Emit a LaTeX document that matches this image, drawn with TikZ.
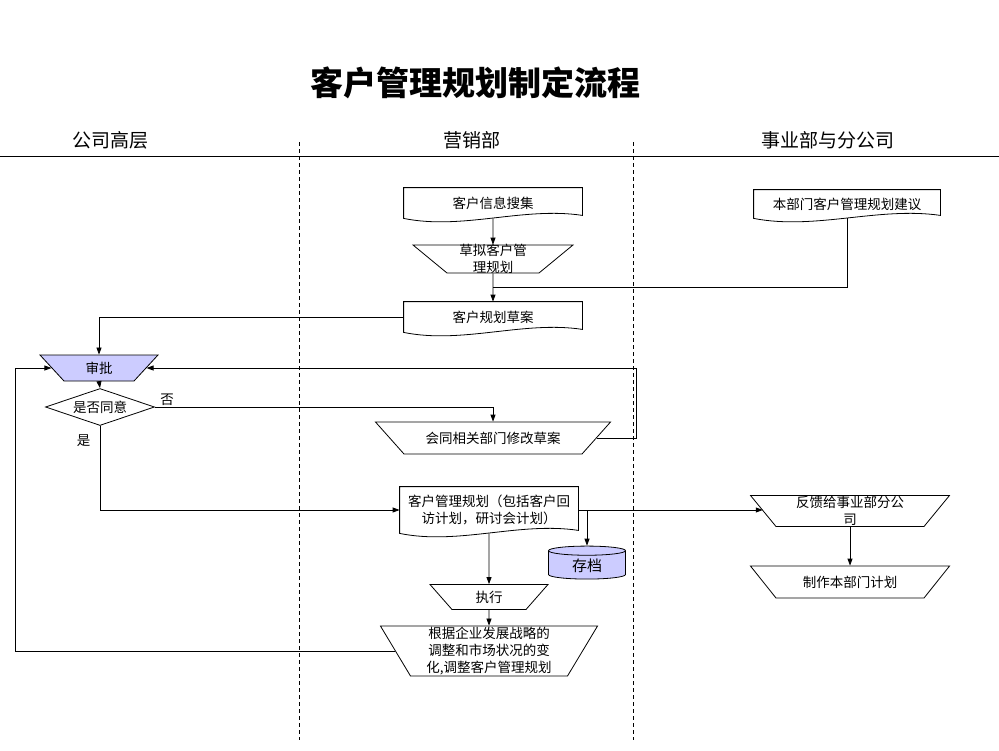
\documentclass[tikz,border=0pt]{standalone}
\usepackage{fontspec}
\setmainfont{Noto Sans CJK SC}
\usetikzlibrary{shapes.geometric,arrows.meta,calc}
\definecolor{lav}{HTML}{CCCCFF}
\tikzset{
	every node/.style={font=\fontsize{13.5}{17}\selectfont},
	arr/.style={-{Triangle[length=7pt,width=5pt]}},
	docbox/.style={minimum width=178pt, minimum height=30pt, inner sep=1pt, align=center},
	trap/.style n args={3}{draw, trapezium, shape border rotate=180, inner sep=0pt,
		text width=#1, text height=#2, text depth=0pt, trapezium angle=#3},
	head/.style={font=\fontsize{19}{22}\selectfont},
}
\begin{document}
\begin{tikzpicture}[x=1pt,y=-1pt,line width=0.8pt]
			\useasboundingbox (0,0) rectangle (999,750);
			\node[font=\fontsize{33}{36}\selectfont\bfseries] (title) at (475,83) {客户管理规划制定流程};
			\node[head] (top) at (110,140) {公司高层};
			\node[head] (sales) at (472,140) {营销部};
			\node[head] (branch) at (828,140) {事业部与分公司};
			\draw (0,156) -- (999,156);
			\foreach \x in {299,633}
				\draw[dash pattern=on 4pt off 3pt] (\x,142) -- (\x,740);
			\coordinate (loopL) at (15,0);
			\coordinate (loopR) at (636,0);
			
			\node[docbox] (collect) at (493,203) {客户信息搜集};
			\node[trap={92pt}{28pt}{39.5}, label={[align=center]center:草拟客户管\\理规划}] (draft) at (493,259) {};
			\node[docbox] (proposal) at (493,317) {客户规划草案};
			\node[docbox, minimum width=186pt, minimum height=28pt] (suggest) at (847,204) {本部门客户管理规划建议};
			\node[trap={70pt}{26pt}{47.3}, fill=lav, label=center:审批] (approve) at (99,368) {};
			\node[draw, diamond, shape aspect=2.9, inner sep=0pt, minimum width=109pt, minimum height=37pt] (agree) at (100,407) {是否同意};
			\node[trap={178pt}{32pt}{48.3}, label=center:会同相关部门修改草案] (revise) at (493,438) {};
			\node[docbox, minimum height=46pt] (plan) at (489,510) {客户管理规划（包括客户回\\访计划，研讨会计划）};
			\node[draw, fill=lav, cylinder, shape border rotate=90, aspect=0.25, minimum width=77pt, minimum height=33pt,
				font=\fontsize{15}{17}\selectfont] (archive) at (587,566) {存档};
			\node[trap={74pt}{25pt}{48.7}, label=center:执行] (exec) at (489,597) {};
			\node[trap={157pt}{50pt}{59}, label={[align=center]center:根据企业发展战略的\\调整和市场状况的变\\化,调整客户管理规划}] (adjust) at (489,651) {};
			\node[trap={148pt}{31pt}{50.6}, label={[align=center]center:反馈给事业部分公\\司}] (feedback) at (850,511) {};
			\node[trap={148pt}{32pt}{51.4}, label=center:制作本部门计划] (make) at (850,582) {};
			
			\foreach \d in {collect,proposal,suggest,plan}
				\draw (\d.north west) -- (\d.north east) -- ($(\d.south east)+(0,-3)$)
					.. controls ($(\d.south east)!0.33!(\d.south west)+(0,-12)$) and ($(\d.south east)!0.67!(\d.south west)+(0,12)$) .. (\d.south west) -- cycle;
			
			\coordinate (join) at ($(draft.south)!0.5!(proposal.north)$);
			\draw[arr] (collect.south) -- (draft.north);
			\draw[arr] (draft.south) -- (proposal.north);
			\draw (suggest.south) |- (join);
			\draw[arr] (proposal.west) -| (approve.north);
			\draw[arr] (approve.south) -- (agree.north);
			\draw[arr] (agree.east) -| node[pos=0.018, above=-2pt] {否} (revise.north);
			\draw[arr] (revise.east) -- (revise.east -| loopR) |- (approve.east);
			\draw[arr] (agree.south) |- node[pos=0.085, left=6pt] {是} (plan.west);
			\draw[arr] (plan.east) -- (plan.east -| feedback.west);
			\draw[arr] (archive.north |- plan.east) -- (archive.north);
			\draw[arr] (plan.south) -- (exec.north);
			\draw[arr] (exec.south) -- (adjust.north);
			\draw[arr] (adjust.west) -- (adjust.west -| loopL) |- (approve.west);
			\draw[arr] (feedback.south) -- (make.north);
\end{tikzpicture}
\end{document}
